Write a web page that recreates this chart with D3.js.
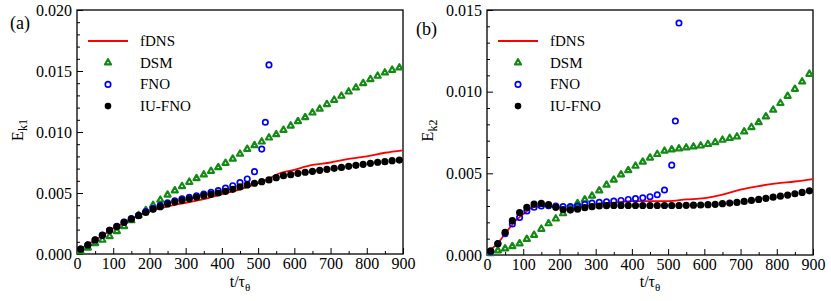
<!DOCTYPE html>
<html>
<head>
<meta charset="utf-8">
<script src="https://cdn.jsdelivr.net/npm/d3@7"></script>
<style>
  body { margin: 0; background: #fff; }
  svg text { font-family: "Liberation Serif", "DejaVu Serif", "Times New Roman", serif !important; }
</style>
</head>
<body>
<div class="canvas"></div>
<script>
/* ----------- DATA ----------- */
// marker times (every 20 time units)
const tMarks = [10, 30, 50, 70, 90, 110, 130, 150, 170, 190, 210, 230, 250, 270, 290, 310, 330, 350, 370, 390,
    410, 430, 450, 470, 490, 510, 530, 550, 570, 590, 610, 630, 650, 670, 690, 710, 730, 750, 770, 790,
    810, 830, 850, 870, 890];
// FNO blows up, its last samples are closer together
const tFno = [10, 30, 50, 70, 90, 110, 130, 150, 170, 190, 210, 230, 250, 270, 290, 310, 330, 350, 370, 390,
    410, 430, 450, 470, 490, 510, 520, 530];

// panel (a) : E_k1
const tDnsA = [0, 25, 50, 75, 100, 125, 150, 175, 200, 225, 250, 300, 350, 400, 450, 500, 525, 550, 600, 650, 700, 750, 800, 850, 900];
const fdnsA = [0.0002, 0.0007, 0.00115, 0.0016, 0.0021, 0.0025, 0.0029, 0.0032, 0.0035, 0.0037, 0.0039, 0.0042, 0.0045, 0.0049, 0.0053, 0.0058, 0.0061, 0.0065, 0.0069, 0.0073, 0.0075, 0.0078, 0.0080, 0.0083, 0.0085];
const dsmA = [0.0002, 0.0005, 0.00087, 0.00115, 0.00145, 0.00186, 0.00227, 0.00275, 0.00317, 0.00358,
    0.0040, 0.00443, 0.00485, 0.0052, 0.00555, 0.0059, 0.0062, 0.0065, 0.0068, 0.0071,
    0.00745, 0.0078, 0.0082, 0.0086, 0.0089, 0.0092, 0.00953, 0.0098, 0.01016, 0.01051,
    0.01087, 0.0112, 0.01158, 0.01189, 0.01227, 0.01262, 0.01295, 0.0133, 0.01363, 0.01399,
    0.01432, 0.01459, 0.01486, 0.01508, 0.01527];
const fnoA = [0.0004, 0.00074, 0.00115, 0.00155, 0.00195, 0.00228, 0.00262, 0.0029, 0.00318, 0.00348,
    0.00375, 0.004, 0.0042, 0.00437, 0.00452, 0.00465, 0.00478, 0.00492, 0.00505, 0.0052,
    0.0054, 0.0056, 0.00585, 0.00615, 0.00675, 0.0086, 0.0108, 0.0155];
const iuA = [0.0004, 0.00074, 0.00115, 0.00153, 0.00194, 0.00224, 0.0026, 0.00287, 0.00314, 0.0034,
    0.00366, 0.00388, 0.0041, 0.00426, 0.0044, 0.00453, 0.00465, 0.00478, 0.00489, 0.005,
    0.00514, 0.0053, 0.0055, 0.00566, 0.0058, 0.00593, 0.00607, 0.00626, 0.00642, 0.0065,
    0.00661, 0.0067, 0.00678, 0.00686, 0.00694, 0.00702, 0.0071, 0.00719, 0.00727, 0.00735,
    0.00743, 0.00752, 0.00757, 0.00765, 0.0077];

// panel (b) : E_k2
const tDnsB = [0, 25, 50, 75, 100, 125, 150, 175, 200, 225, 250, 300, 350, 400, 450, 500, 550, 600, 650, 700, 750, 800, 850, 900];
const fdnsB = [0.0002, 0.0006, 0.0013, 0.0020, 0.0025, 0.0029, 0.0030, 0.0030, 0.0029, 0.0028, 0.0029, 0.0031, 0.0032, 0.0033, 0.0033, 0.0033, 0.0034, 0.00348, 0.0037, 0.0040, 0.00422, 0.00438, 0.0045, 0.00465];
const dsmB = [0.0001, 0.00027, 0.00039, 0.00053, 0.0007, 0.00097, 0.00122, 0.00159, 0.00193, 0.00222,
    0.00254, 0.00286, 0.00316, 0.00339, 0.00362, 0.00394, 0.00429, 0.0046, 0.00492, 0.00518,
    0.00545, 0.0057, 0.00595, 0.00617, 0.00637, 0.00645, 0.00651, 0.00657, 0.00663, 0.00669,
    0.00678, 0.0069, 0.00704, 0.00715, 0.00724, 0.00755, 0.00782, 0.00812, 0.00847, 0.00888,
    0.00929, 0.00973, 0.01016, 0.01061, 0.01108];
const fnoB = [0.0002, 0.0007, 0.0013, 0.0019, 0.0023, 0.0027, 0.00292, 0.0030, 0.00302, 0.003,
    0.00296, 0.00296, 0.003, 0.0031, 0.00318, 0.00322, 0.00326, 0.0033, 0.00334, 0.0034,
    0.00345, 0.0035, 0.00357, 0.00369, 0.00398, 0.0055, 0.0082, 0.0142];
const iuB = [0.00026, 0.00069, 0.00139, 0.0021, 0.00259, 0.00292, 0.00312, 0.00316, 0.00308, 0.00292,
    0.00278, 0.00275, 0.0028, 0.0029, 0.00296, 0.003, 0.00302, 0.00303, 0.00303, 0.00303,
    0.00303, 0.00303, 0.00303, 0.00303, 0.00303, 0.00303, 0.00303, 0.00304, 0.00305, 0.00306,
    0.00308, 0.0031, 0.00314, 0.00318, 0.00322, 0.00328, 0.00334, 0.0034, 0.00347, 0.00354,
    0.0036, 0.00367, 0.00375, 0.00383, 0.00393];

// ticks
const xMajor = [0, 100, 200, 300, 400, 500, 600, 700, 800, 900];
const xMinor = [50, 150, 250, 350, 450, 550, 650, 750, 850];
const yMajorA = [0, 0.005, 0.010, 0.015, 0.020];
const yMajorB = [0, 0.005, 0.010, 0.015];
const legendNames = ['fDNS', 'DSM', 'FNO', 'IU-FNO'];

/* ----------- CONTAINER ----------- */
const serif = '"Liberation Serif", "DejaVu Serif", "Times New Roman", serif';
const svg = d3.select('.canvas')
    .append('svg')
    .attr('width', 831)
    .attr('height', 301)
    .attr('font-family', serif);

const red = '#ff0000', green = '#138a13', blue = '#0000ff';

/* ----------- PANEL ----------- */
const drawPanel = (p) => {
    const x = d3.scaleLinear().domain([0, 900]).range([p.left, p.right]);
    const y = d3.scaleLinear().domain([0, p.yMax]).range([p.bottom, p.top]);
    const g = svg.append('g');

    // minor ticks (no labels)
    const yMinor = d3.range(0, Math.round(p.yMax / 0.001) + 1).map(i => i * 0.001)
        .filter(v => Math.abs(v / 0.005 - Math.round(v / 0.005)) > 1e-6);
    g.append('g')
        .attr('transform', `translate(${p.left},0)`)
        .call(d3.axisLeft(y).tickValues(yMinor).tickSize(-3).tickFormat(''))
        .call(a => a.select('.domain').remove());
    g.append('g')
        .attr('transform', `translate(0,${p.bottom})`)
        .call(d3.axisBottom(x).tickValues(xMinor).tickSize(-3).tickFormat(''))
        .call(a => a.select('.domain').remove());

    // major ticks
    g.append('g')
        .attr('transform', `translate(${p.left},0)`)
        .call(d3.axisLeft(y).tickValues(p.yMajor).tickSize(-6).tickPadding(5).tickFormat(d3.format('.3f')))
        .attr('font-family', serif)
        .call(a => a.select('.domain').remove())
        .call(a => a.selectAll('text').attr('font-size', 16).attr('fill', '#000'));
    g.append('g')
        .attr('transform', `translate(0,${p.bottom})`)
        .call(d3.axisBottom(x).tickValues(xMajor).tickSize(-6).tickPadding(4).tickFormat(d3.format('d')))
        .attr('font-family', serif)
        .call(a => a.select('.domain').remove())
        .call(a => a.selectAll('text').attr('font-size', 16).attr('fill', '#000'));

    // frame
    g.append('rect')
        .attr('x', p.left).attr('y', p.top)
        .attr('width', p.right - p.left).attr('height', p.bottom - p.top)
        .attr('fill', 'none').attr('stroke', '#000').attr('stroke-width', 1.3);

    // fDNS line
    const line = d3.line().x(d => x(d[0])).y(d => y(d[1])).curve(d3.curveMonotoneX);
    g.append('path')
        .datum(p.tDns.map((t, i) => [t, p.fdns[i]]))
        .attr('d', line)
        .attr('fill', 'none').attr('stroke', red).attr('stroke-width', 1.8);

    // DSM triangles
    const tri = d3.symbol().type(d3.symbolTriangle).size(16);
    g.selectAll('.dsm').data(tMarks.map((t, i) => [t, p.dsm[i]])).enter()
        .append('path')
        .attr('d', tri)
        .attr('transform', d => `translate(${x(d[0])},${y(d[1])})`)
        .attr('fill', '#fff').attr('stroke', green).attr('stroke-width', 2.2)
        .attr('stroke-linejoin', 'round');

    // FNO circles
    g.selectAll('.fno').data(tFno.map((t, i) => [t, p.fno[i]])).enter()
        .append('circle')
        .attr('cx', d => x(d[0])).attr('cy', d => y(d[1])).attr('r', 2.7)
        .attr('fill', 'none').attr('stroke', blue).attr('stroke-width', 1.7);

    // IU-FNO dots
    g.selectAll('.iu').data(tMarks.map((t, i) => [t, p.iu[i]])).enter()
        .append('circle')
        .attr('cx', d => x(d[0])).attr('cy', d => y(d[1])).attr('r', 3.6)
        .attr('fill', '#000');

    // legend
    const lx = p.left + 21, ly = 41, dy = 21.7;
    g.append('line')
        .attr('x1', lx - 10).attr('x2', lx + 30).attr('y1', ly).attr('y2', ly)
        .attr('stroke', red).attr('stroke-width', 1.8);
    g.append('path').attr('d', tri).attr('transform', `translate(${lx + 10},${ly + dy})`)
        .attr('fill', '#fff').attr('stroke', green).attr('stroke-width', 2.2)
        .attr('stroke-linejoin', 'round');
    g.append('circle').attr('cx', lx + 10).attr('cy', ly + 2 * dy).attr('r', 2.7)
        .attr('fill', 'none').attr('stroke', blue).attr('stroke-width', 1.7);
    g.append('circle').attr('cx', lx + 10).attr('cy', ly + 3 * dy).attr('r', 3.3)
        .attr('fill', '#000');
    legendNames.forEach((n, i) => {
        g.append('text').attr('x', lx + 42).attr('y', ly + i * dy + 5)
            .attr('font-size', 15).text(n);
    });

    // panel label
    g.append('text').attr('x', p.labX).attr('y', p.labY).attr('font-size', 18).text(p.label);

    // axis titles
    const xt = g.append('text')
        .attr('x', (p.left + p.right) / 2).attr('y', 287)
        .attr('text-anchor', 'middle').attr('font-size', 16);
    xt.append('tspan').text('t/τ');
    xt.append('tspan').attr('font-size', 11).attr('dy', 4).text('θ');

    const yt = g.append('text')
        .attr('transform', `translate(${p.left - 54},${(p.top + p.bottom) / 2 - 2}) rotate(-90)`)
        .attr('text-anchor', 'middle').attr('font-size', 16);
    yt.append('tspan').text('E');
    yt.append('tspan').attr('font-size', 12).attr('dy', 4).text(p.sub);
};

drawPanel({ left: 77, right: 403, top: 10, bottom: 254, yMax: 0.020, yMajor: yMajorA,
    tDns: tDnsA, fdns: fdnsA, dsm: dsmA, fno: fnoA, iu: iuA,
    label: '(a)', labX: 10, labY: 29, sub: 'k1' });
drawPanel({ left: 487, right: 813, top: 10, bottom: 255, yMax: 0.015, yMajor: yMajorB,
    tDns: tDnsB, fdns: fdnsB, dsm: dsmB, fno: fnoB, iu: iuB,
    label: '(b)', labX: 416, labY: 35, sub: 'k2' });
</script>
</body>
</html>
